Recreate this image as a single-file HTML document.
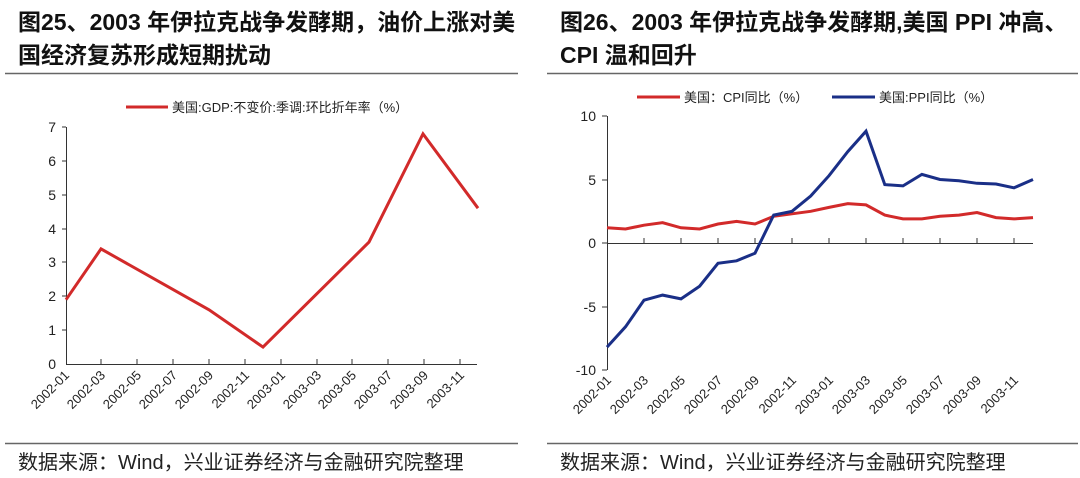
<!DOCTYPE html><html><head><meta charset="utf-8"><style>
body{margin:0;background:#fff;}
svg text{font-family:"Liberation Sans","Noto Sans CJK SC",sans-serif;}
</style></head><body>
<svg width="1080" height="473" xmlns="http://www.w3.org/2000/svg">
<g font-size="23" font-weight="bold" fill="#111">
<text x="18" y="30">图25、2003 年伊拉克战争发酵期，油价上涨对美</text>
<text x="18" y="63">国经济复苏形成短期扰动</text>
<text x="560" y="30">图26、2003 年伊拉克战争发酵期,美国 PPI 冲高、</text>
<text x="560" y="63">CPI 温和回升</text>
</g>
<line x1="5" y1="73.5" x2="518" y2="73.5" stroke="#666" stroke-width="1.5"/>
<line x1="547" y1="73.5" x2="1078" y2="73.5" stroke="#666" stroke-width="1.5"/>
<line x1="5" y1="443.5" x2="518" y2="443.5" stroke="#666" stroke-width="1.5"/>
<line x1="547" y1="443.5" x2="1078" y2="443.5" stroke="#666" stroke-width="1.5"/>
<g font-size="20" fill="#222">
<text x="18" y="469">数据来源：Wind，兴业证券经济与金融研究院整理</text>
<text x="560" y="469">数据来源：Wind，兴业证券经济与金融研究院整理</text>
</g>
<!-- left chart -->
<line x1="126" y1="107" x2="168" y2="107" stroke="#d22a2a" stroke-width="3"/>
<text x="172" y="112" font-size="13" fill="#222">美国:GDP:不变价:季调:环比折年率（%）</text>
<g stroke="#333" stroke-width="1" fill="none">
<path d="M66.5 127V364.5H477"/>
<path d="M66 127h-4M66 161h-4M66 195h-4M66 229h-4M66 262h-4M66 296h-4M66 330h-4"/>
<path d="M101 364v-5M137 364v-5M173 364v-5M209 364v-5M245 364v-5M281 364v-5M317 364v-5M352 364v-5M388 364v-5M424 364v-5M460 364v-5"/>
</g>
<g font-size="14" fill="#222" text-anchor="end">
<text x="56" y="369">0</text><text x="56" y="335">1</text><text x="56" y="301">2</text><text x="56" y="267">3</text><text x="56" y="234">4</text><text x="56" y="200">5</text><text x="56" y="166">6</text><text x="56" y="132">7</text>
</g>
<g font-size="13" fill="#222" text-anchor="end">
<text transform="translate(70,376) rotate(-45)">2002-01</text>
<text transform="translate(106,376) rotate(-45)">2002-03</text>
<text transform="translate(142,376) rotate(-45)">2002-05</text>
<text transform="translate(178,376) rotate(-45)">2002-07</text>
<text transform="translate(214,376) rotate(-45)">2002-09</text>
<text transform="translate(250,376) rotate(-45)">2002-11</text>
<text transform="translate(286,376) rotate(-45)">2003-01</text>
<text transform="translate(322,376) rotate(-45)">2003-03</text>
<text transform="translate(357,376) rotate(-45)">2003-05</text>
<text transform="translate(393,376) rotate(-45)">2003-07</text>
<text transform="translate(429,376) rotate(-45)">2003-09</text>
<text transform="translate(465,376) rotate(-45)">2003-11</text>
</g>
<polyline fill="none" stroke="#d22a2a" stroke-width="3" points="66,299.7 101,248.9 209,309.8 263,347.1 369,242.1 423,133.8 478,208.2"/>
<!-- right chart -->
<line x1="637" y1="97" x2="680" y2="97" stroke="#d22a2a" stroke-width="3"/>
<text x="684" y="102" font-size="13" fill="#222">美国：CPI同比（%）</text>
<line x1="832" y1="97" x2="875" y2="97" stroke="#1a2f87" stroke-width="3"/>
<text x="879" y="102" font-size="13" fill="#222">美国:PPI同比（%）</text>
<g stroke="#333" stroke-width="1" fill="none">
<path d="M607.5 116V370"/>
<path d="M607 116h-5M607 180h-5M607 243h-5M607 307h-5M607 370h-5"/>
<path d="M607 243.5H1033"/>
<path d="M644 243v-5M681 243v-5M718 243v-5M755 243v-5M792 243v-5M829 243v-5M866 243v-5M903 243v-5M940 243v-5M977 243v-5M1014 243v-5"/>
</g>
<g font-size="14" fill="#222" text-anchor="end">
<text x="596" y="121">10</text><text x="596" y="185">5</text><text x="596" y="248">0</text><text x="596" y="312">-5</text><text x="596" y="375">-10</text>
</g>
<g font-size="13" fill="#222" text-anchor="end">
<text transform="translate(612,381) rotate(-45)">2002-01</text>
<text transform="translate(649,381) rotate(-45)">2002-03</text>
<text transform="translate(686,381) rotate(-45)">2002-05</text>
<text transform="translate(723,381) rotate(-45)">2002-07</text>
<text transform="translate(760,381) rotate(-45)">2002-09</text>
<text transform="translate(797,381) rotate(-45)">2002-11</text>
<text transform="translate(834,381) rotate(-45)">2003-01</text>
<text transform="translate(871,381) rotate(-45)">2003-03</text>
<text transform="translate(908,381) rotate(-45)">2003-05</text>
<text transform="translate(945,381) rotate(-45)">2003-07</text>
<text transform="translate(982,381) rotate(-45)">2003-09</text>
<text transform="translate(1019,381) rotate(-45)">2003-11</text>
</g>
<polyline fill="none" stroke="#d22a2a" stroke-width="3" points="607,227.8 625.5,229 644,225.2 662.6,222.7 681,227.8 699.6,229 718,224 736.6,221.4 755,224 773.7,216.3 792,213.8 810.7,211.3 829,207.4 847.8,203.6 866,204.9 884.8,215.1 903,218.9 921.9,218.9 940,216.3 958.9,215.1 977,212.5 996,217.6 1014,218.9 1033,217.6"/>
<polyline fill="none" stroke="#1a2f87" stroke-width="3" points="607,347.1 625.5,326.8 644,300.2 662.6,295.1 681,298.9 699.6,286.2 718,263.3 736.6,260.8 755,253.2 773.7,215.1 792,211.3 810.7,196 829,175.7 847.8,151.6 866,131.2 884.8,184.6 903,185.9 921.9,174.4 940,179.5 958.9,180.8 977,183.3 996,184 1014,187.8 1033,179.5"/>
</svg>
</body></html>
